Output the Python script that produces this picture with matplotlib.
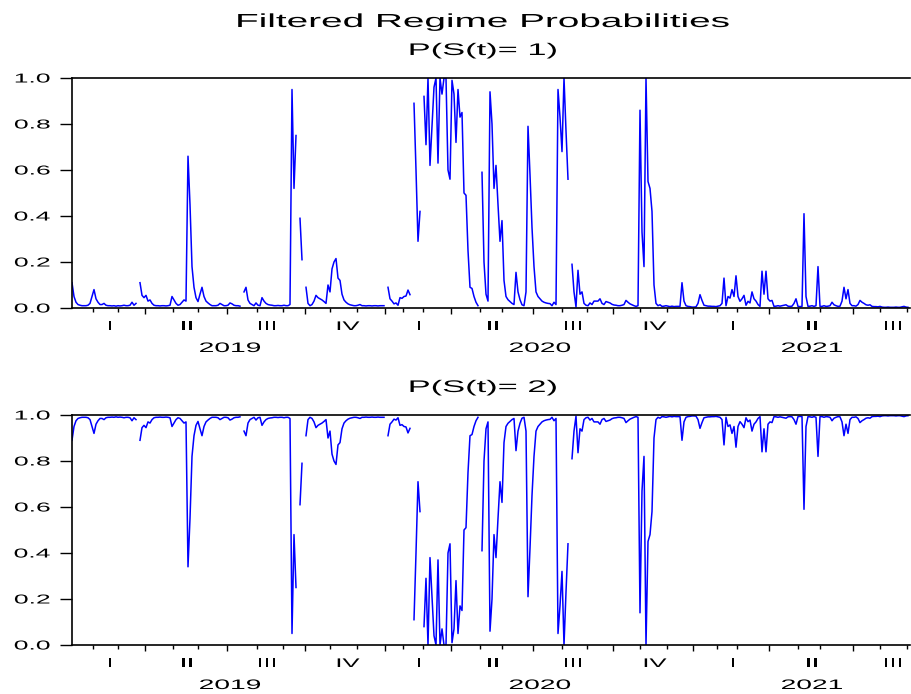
import numpy as np
import matplotlib
matplotlib.use("Agg")
import matplotlib.pyplot as plt
import matplotlib.patheffects as pe
from matplotlib.transforms import Affine2D

nan = np.nan

p1 = [
    0.11, 0.05, 0.025, 0.015, 0.012, 0.01, 0.01, 0.01, 0.012, 0.02,
    0.05, 0.08, 0.04, 0.025, 0.015, 0.015, 0.02, 0.012, 0.01, 0.01,
    0.009, 0.01, 0.008, 0.01, 0.009, 0.01, 0.012, 0.01, 0.01, 0.012,
    0.025, 0.012, 0.02, nan, 0.11, 0.055, 0.045, 0.055, 0.03, 0.035,
    0.02, 0.012, 0.01, 0.01, 0.009, 0.01, 0.01, 0.009, 0.01, 0.012,
    0.05, 0.035, 0.02, 0.012, 0.015, 0.025, 0.035, 0.03, 0.66, 0.45,
    0.18, 0.09, 0.045, 0.028, 0.06, 0.09, 0.05, 0.03, 0.022, 0.015,
    0.01, 0.01, 0.01, 0.012, 0.02, 0.015, 0.01, 0.01, 0.012, 0.022,
    0.018, 0.012, 0.01, 0.01, 0.008, nan, 0.07, 0.09, 0.035, 0.02,
    0.015, 0.01, 0.022, 0.012, 0.01, 0.045, 0.03, 0.02, 0.015, 0.013,
    0.012, 0.01, 0.01, 0.011, 0.01, 0.01, 0.012, 0.01, 0.01, 0.015,
    0.95, 0.52, 0.75, nan, 0.39, 0.21, nan, 0.09, 0.02, 0.01,
    0.015, 0.03, 0.055, 0.045, 0.04, 0.035, 0.028, 0.02, 0.1, 0.07,
    0.17, 0.2, 0.215, 0.13, 0.12, 0.06, 0.035, 0.025, 0.018, 0.014,
    0.012, 0.01, 0.01, 0.012, 0.015, 0.01, 0.01, 0.009, 0.01, 0.01,
    0.009, 0.01, 0.01, 0.009, 0.01, 0.01, 0.01, nan, 0.09, 0.04,
    0.03, 0.018, 0.022, 0.012, 0.045, 0.042, 0.05, 0.052, 0.078, 0.058,
    nan, 0.89, 0.6, 0.29, 0.42, nan, 0.92, 0.71, 1.0, 0.62,
    0.79, 0.96, 1.0, 0.63, 1.0, 0.93, 1.0, 1.0, 0.60, 0.56,
    0.99, 0.93, 0.72, 0.95, 0.83, 0.85, 0.50, 0.49, 0.25, 0.09,
    0.085, 0.05, 0.025, 0.01, nan, 0.59, 0.2, 0.06, 0.03, 0.94,
    0.8, 0.52, 0.62, 0.45, 0.29, 0.38, 0.12, 0.05, 0.036, 0.028,
    0.02, 0.015, 0.155, 0.07, 0.036, 0.014, 0.01, 0.07, 0.79, 0.58,
    0.35, 0.18, 0.07, 0.05, 0.04, 0.03, 0.025, 0.022, 0.02, 0.019,
    0.01, 0.025, 0.015, 0.95, 0.83, 0.68, 1.0, 0.77, 0.56, nan,
    0.19, 0.07, 0.005, 0.164, 0.06, 0.07, 0.02, 0.012, 0.01, 0.022,
    0.015, 0.03, 0.03, 0.03, 0.04, 0.02, 0.015, 0.028, 0.025, 0.022,
    0.016, 0.013, 0.012, 0.01, 0.01, 0.012, 0.015, 0.033, 0.025, 0.018,
    0.014, 0.01, 0.007, 0.01, 0.86, 0.33, 0.18, 1.0, 0.55, 0.52,
    0.42, 0.1, 0.02, 0.01, 0.014, 0.007, 0.008, 0.01, 0.008, 0.006,
    0.008, 0.006, 0.007, 0.007, 0.007, 0.11, 0.03, 0.01, 0.007, 0.006,
    0.004, 0.004, 0.005, 0.02, 0.058, 0.033, 0.012, 0.01, 0.008, 0.008,
    0.007, 0.007, 0.006, 0.008, 0.01, 0.02, 0.13, 0.01, 0.05, 0.043,
    0.08, 0.05, 0.14, 0.05, 0.029, 0.04, 0.055, 0.012, 0.029, 0.022,
    0.07, 0.04, 0.03, 0.015, 0.007, 0.16, 0.06, 0.16, 0.04, 0.03,
    0.033, 0.007, 0.008, 0.01, 0.008, 0.01, 0.012, 0.014, 0.008, 0.007,
    0.008, 0.02, 0.04, 0.007, 0.006, 0.007, 0.41, 0.05, 0.007, 0.008,
    0.01, 0.007, 0.01, 0.18, 0.007, 0.007, 0.01, 0.007, 0.008, 0.01,
    0.025, 0.014, 0.01, 0.007, 0.008, 0.03, 0.09, 0.04, 0.08, 0.02,
    0.01, 0.01, 0.008, 0.015, 0.033, 0.025, 0.02, 0.014, 0.012, 0.014,
    0.007, 0.006, 0.006, 0.005, 0.007, 0.004, 0.003, 0.003, 0.004, 0.003,
    0.003, 0.003, 0.004, 0.003, 0.003, 0.005, 0.007, 0.004, 0.003,
]
p1 = np.array(p1)
p2 = 1 - p1
obs = np.arange(len(p1))

# axis calendar, in observation numbers
month_ticks = [10.5, 23, 36.5, 50.5, 63, 77.5, 92.5, 105.5, 116.5, 129, 142.5,
               156.5, 165.5, 175.5, 189.5, 204, 215, 230.5, 245, 257.5, 270.5,
               284, 297.5, 310.5, 322.5, 332.5, 348.5, 363, 374, 390.5, 404, 417.5]
quarter_ticks = [36.5, 77.5, 116.5, 156.5, 189.5, 230.5, 270.5, 310.5, 348.5, 390.5]
quarter_pos = [19, 57.5, 97.5, 138, 173.5, 210.5, 250.5, 291.5, 330.5, 370, 410.5]
quarter_names = ["I", "II", "III", "IV", "I", "II", "III", "IV", "I", "II", "III"]
year_pos = [79, 234, 370]
year_names = ["2019", "2020", "2021"]
ytick_vals = [0.0, 0.2, 0.4, 0.6, 0.8, 1.0]
ytick_labels = ["0.0", "0.2", "0.4", "0.6", "0.8", "1.0"]
panel_titles = ["P(S(t)= 1)", "P(S(t)= 2)"]


# EViews draws its text wide, so stretch the glyphs sideways
class Stretch(pe.AbstractPathEffect):
    def __init__(self, sx=2.05, anchor=0.5):
        super().__init__()
        self.sx = sx
        self.anchor = anchor

    def draw_path(self, renderer, gc, tpath, affine, rgbFace=None):
        ext = tpath.get_extents()
        x0 = ext.x0 + self.anchor * ext.width
        st = Affine2D().translate(-x0, 0).scale(self.sx, 1).translate(x0, 0)
        renderer.draw_path(gc, tpath, st + affine, rgbFace)


plt.rcParams['font.family'] = ['Liberation Sans', 'DejaVu Sans']

W, H = 911, 694
fig = plt.figure(figsize=(W / 100, H / 100), dpi=100)
fig.text(482 / W, 1 - 27 / H, "Filtered Regime Probabilities", ha='center',
         va='baseline', fontsize=13.6, path_effects=[Stretch()])

tops = [78, 415]
for top, p, ttl in zip(tops, [p1, p2], panel_titles):
    ax = fig.add_axes([72 / W, 1 - (top + 230) / H, 838 / W, 230 / H])
    ax.plot(obs, p, color='#0000ff', lw=1.1)
    ax.set_xlim(0, 419)
    ax.set_ylim(0, 1)

    ax.spines['right'].set_visible(False)
    for s in ['left', 'top', 'bottom']:
        ax.spines[s].set_linewidth(1.2)

    ax.set_yticks(ytick_vals)
    ax.set_yticklabels(ytick_labels, fontsize=9.3,
                       path_effects=[Stretch(anchor=1.0)])
    ax.tick_params(axis='y', direction='out', length=8.6, width=1.0, pad=7.2)

    ax.set_xticks(quarter_ticks)
    ax.set_xticklabels([])
    ax.set_xticks(month_ticks, minor=True)
    ax.tick_params(axis='x', which='major', direction='out', length=4.5, width=1.0)
    ax.tick_params(axis='x', which='minor', direction='out', length=3, width=1.0)

    tr = ax.get_xaxis_transform()
    for q, name in zip(quarter_pos, quarter_names):
        ax.text(q, -22 / 230, name, transform=tr, ha='center', va='baseline',
                fontsize=9, path_effects=[Stretch()])
    for yp, name in zip(year_pos, year_names):
        ax.text(yp, -44 / 230, name, transform=tr, ha='center', va='baseline',
                fontsize=9.9, path_effects=[Stretch()])

    fig.text(483 / W, 1 - (top - 23) / H, ttl, ha='center', va='baseline',
             fontsize=12.1, path_effects=[Stretch()])

fig.savefig("out.png", dpi=100)
